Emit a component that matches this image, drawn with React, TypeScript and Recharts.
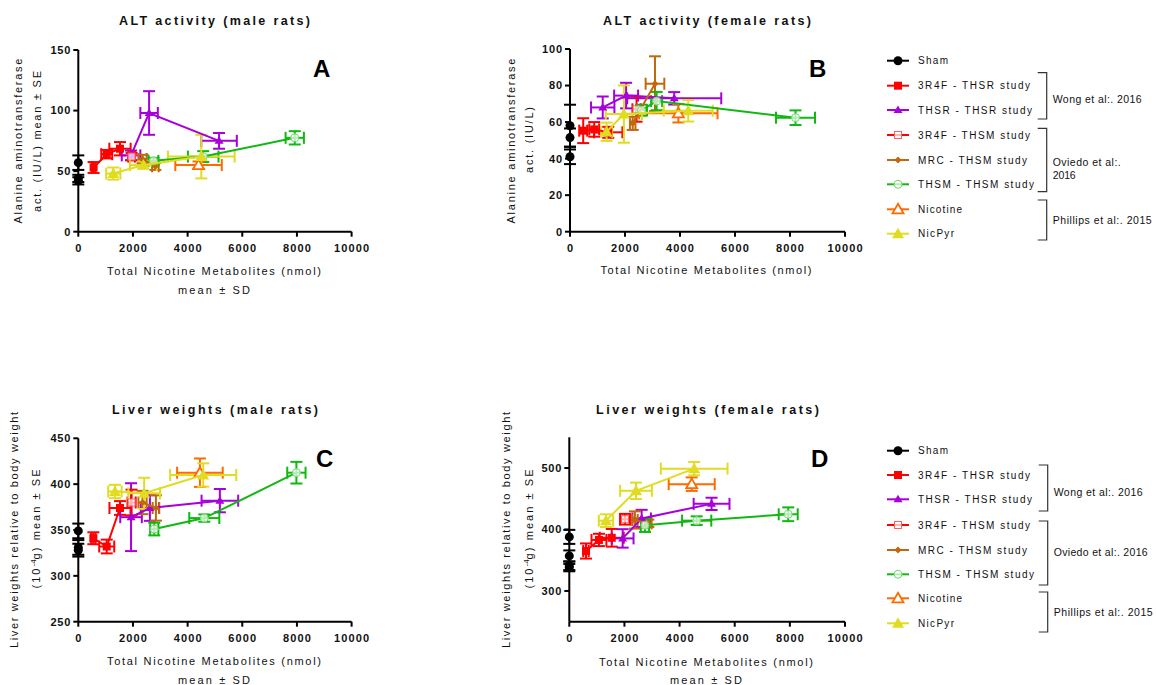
import React from 'react';
import { ScatterChart, Scatter, XAxis, YAxis, ErrorBar } from 'recharts';

type P = { x: number; y: number; ex?: number; ey?: number };

const FONT = '"Liberation Sans", Arial, Helvetica, sans-serif';
const INK = '#111';

const xTicks = [0, 2000, 4000, 6000, 8000, 10000];
const yTicksA = [0, 50, 100, 150];
const yTicksB = [0, 20, 40, 60, 80, 100];
const yTicksC = [250, 300, 350, 400, 450];
const yTicksD = [300, 400, 500];

const seriesNames = [
  'Sham',
  '3R4F - THSR study',
  'THSR - THSR study',
  '3R4F - THSM study',
  'MRC - THSM study',
  'THSM - THSM study',
  'Nicotine',
  'NicPyr',
];

// Panel A: ALT activity (male rats)
const aSham: P[] = [{ x: 0, y: 57, ey: 6 }, { x: 0, y: 44, ey: 3 }, { x: 0, y: 42, ey: 3 }];
const a3r4fThsr: P[] = [{ x: 560, y: 53, ex: 60, ey: 4.5 }, { x: 1040, y: 64, ex: 200, ey: 3.5 }, { x: 1525, y: 68.5, ex: 390, ey: 5.5 }];
const aThsrThsr: P[] = [{ x: 1930, y: 63, ex: 340, ey: 4 }, { x: 2590, y: 98, ex: 320, ey: 18 }, { x: 5150, y: 75, ex: 650, ey: 6.5 }];
const a3r4fThsm: P[] = [{ x: 1950, y: 62, ex: 120, ey: 3 }];
const aMrcThsm: P[] = [{ x: 2350, y: 60, ex: 150, ey: 3.5 }, { x: 2820, y: 54, ex: 120, ey: 3 }];
const aThsmThsm: P[] = [{ x: 2750, y: 58.5, ex: 180, ey: 2.5 }, { x: 4570, y: 62, ex: 560, ey: 4.5 }, { x: 7920, y: 77.5, ex: 335, ey: 5.5 }];
const aNicotine: P[] = [{ x: 4400, y: 55, ex: 850, ey: 3 }];
const aNicPyr: P[] = [{ x: 1280, y: 48, ex: 260, ey: 5 }, { x: 2380, y: 55, ex: 490, ey: 3 }, { x: 4500, y: 62, ex: 1220, ey: 18 }];

// Panel B: ALT activity (female rats)
const bSham: P[] = [{ x: 0, y: 58, ey: 11.5 }, { x: 0, y: 51.5, ey: 5 }, { x: 0, y: 41, ey: 4 }];
const b3r4fThsr: P[] = [{ x: 480, y: 55.3, ex: 145, ey: 6.8 }, { x: 880, y: 56, ex: 180, ey: 4 }, { x: 1390, y: 54.4, ex: 515, ey: 3 }];
const bThsrThsr: P[] = [{ x: 1190, y: 68, ex: 425, ey: 6 }, { x: 2040, y: 74.5, ex: 435, ey: 7 }, { x: 3790, y: 73, ex: 1710, ey: 3.4 }];
const b3r4fThsm: P[] = [{ x: 2420, y: 67, ex: 150, ey: 6.8 }];
const bMrcThsm: P[] = [{ x: 2280, y: 59.3, ex: 100, ey: 3.6 }, { x: 3090, y: 81, ex: 340, ey: 15 }];
const bThsmThsm: P[] = [{ x: 2600, y: 66.5, ex: 200, ey: 3 }, { x: 3150, y: 71.5, ex: 200, ey: 5 }, { x: 8200, y: 62.4, ex: 710, ey: 4 }];
const bNicotine: P[] = [{ x: 3940, y: 64.8, ex: 1425, ey: 5 }];
const bNicPyr: P[] = [{ x: 1330, y: 54.7, ex: 200, ey: 5 }, { x: 1960, y: 64.4, ex: 660, ey: 15.7 }, { x: 4300, y: 66.2, ex: 890, ey: 5.9 }];

// Panel C: Liver weights (male rats)
const cSham: P[] = [{ x: 0, y: 349, ey: 8 }, { x: 0, y: 331, ey: 8 }, { x: 0, y: 328, ey: 7 }];
const c3r4fThsr: P[] = [{ x: 550, y: 341, ex: 80, ey: 6.5 }, { x: 1040, y: 332, ex: 275, ey: 7.5 }, { x: 1525, y: 374, ex: 385, ey: 7.5 }];
const cThsrThsr: P[] = [{ x: 1930, y: 364, ex: 395, ey: 37 }, { x: 2620, y: 374, ex: 335, ey: 14 }, { x: 5180, y: 382, ex: 670, ey: 12.7 }];
const c3r4fThsm: P[] = [{ x: 1950, y: 380, ex: 150, ey: 14 }];
const cMrcThsm: P[] = [{ x: 2350, y: 380, ex: 150, ey: 12.7 }, { x: 2840, y: 374, ex: 120, ey: 13.8 }];
const cThsmThsm: P[] = [{ x: 2780, y: 351, ex: 150, ey: 6.9 }, { x: 4610, y: 363, ex: 550, ey: 4 }, { x: 7980, y: 412.5, ex: 335, ey: 11.8 }];
const cNicotine: P[] = [{ x: 4450, y: 412.5, ex: 835, ey: 15.5 }];
const cNicPyr: P[] = [{ x: 1340, y: 392, ex: 245, ey: 7.3 }, { x: 2410, y: 390, ex: 580, ey: 17 }, { x: 4570, y: 410, ex: 1210, ey: 12.7 }];

// Panel D: Liver weights (female rats)
const dSham: P[] = [{ x: 0, y: 388, ey: 11.4 }, { x: 0, y: 357, ey: 9 }, { x: 0, y: 341, ey: 7 }, { x: 0, y: 338, ey: 6 }];
const d3r4fThsr: P[] = [{ x: 605, y: 365, ex: 100, ey: 12.3 }, { x: 1075, y: 383, ex: 270, ey: 10 }, { x: 1540, y: 386.5, ex: 435, ey: 14.4 }];
const dThsrThsr: P[] = [{ x: 1935, y: 385.5, ex: 395, ey: 15 }, { x: 2625, y: 418, ex: 335, ey: 14 }, { x: 5160, y: 441.7, ex: 650, ey: 10 }];
const d3r4fThsm: P[] = [{ x: 2020, y: 416.7, ex: 180, ey: 8.7 }];
const dMrcThsm: P[] = [{ x: 2380, y: 415.5, ex: 100, ey: 14 }, { x: 2865, y: 410, ex: 120, ey: 6 }];
const dThsmThsm: P[] = [{ x: 2745, y: 407, ex: 150, ey: 11 }, { x: 4620, y: 414.4, ex: 530, ey: 7 }, { x: 7940, y: 424.8, ex: 345, ey: 11.2 }];
const dNicotine: P[] = [{ x: 4440, y: 473.8, ex: 835, ey: 11 }];
const dNicPyr: P[] = [{ x: 1330, y: 414.4, ex: 260, ey: 10.3 }, { x: 2420, y: 463, ex: 575, ey: 13.3 }, { x: 4530, y: 499, ex: 1210, ey: 10.9 }];

type Kind = 'circleFilled' | 'square' | 'triangleSmall' | 'squareOpen' | 'diamond' | 'circleOpen' | 'triangleOpen' | 'triangleFilled';

const STYLES: { color: string; kind: Kind; line: boolean; xErr: boolean }[] = [
  { color: '#000000', kind: 'circleFilled', line: false, xErr: false },
  { color: '#ff0000', kind: 'square', line: true, xErr: true },
  { color: '#a600dd', kind: 'triangleSmall', line: true, xErr: true },
  { color: '#ff0000', kind: 'squareOpen', line: false, xErr: true },
  { color: '#c0680c', kind: 'diamond', line: true, xErr: true },
  { color: '#12b812', kind: 'circleOpen', line: true, xErr: true },
  { color: '#ff6a00', kind: 'triangleOpen', line: false, xErr: true },
  { color: '#e0dc22', kind: 'triangleFilled', line: true, xErr: true },
];

const legendWidths = [30, 112, 114, 112, 109, 116, 44, 36];

function Marker({ kind, color, cx, cy }: { kind: Kind; color: string; cx: number; cy: number }) {
  switch (kind) {
    case 'circleFilled':
      return <circle cx={cx} cy={cy} r={4.5} fill={color} />;
    case 'square':
      return <rect x={cx - 4} y={cy - 4} width={8} height={8} fill={color} />;
    case 'squareOpen':
      return <rect x={cx - 3.5} y={cy - 3.5} width={7} height={7} fill="#fff" fillOpacity={0.7} stroke="#ff6060" strokeWidth={1} />;
    case 'triangleSmall':
      return <polygon points={`${cx},${cy - 4.5} ${cx + 4.5},${cy + 3} ${cx - 4.5},${cy + 3}`} fill={color} />;
    case 'diamond':
      return <polygon points={`${cx},${cy - 3.5} ${cx + 3.5},${cy} ${cx},${cy + 3.5} ${cx - 3.5},${cy}`} fill={color} />;
    case 'circleOpen':
      return <circle cx={cx} cy={cy} r={4} fill="#fff" fillOpacity={0.7} stroke="#6fd86f" strokeWidth={1} />;
    case 'triangleOpen':
      return <polygon points={`${cx},${cy - 5.5} ${cx + 5.5},${cy + 4} ${cx - 5.5},${cy + 4}`} fill="#fff" stroke={color} strokeWidth={1.8} />;
    case 'triangleFilled':
      return <polygon points={`${cx},${cy - 6} ${cx + 6},${cy + 4.5} ${cx - 6},${cy + 4.5}`} fill={color} />;
  }
  return null;
}

// Text with a fixed drawn length (letter-spaced look of the original)
function T({ x, y, len, size = 11, bold = false, anchor = 'start', rotate = false, children }: any) {
  const common = {
    fontSize: size,
    fontWeight: bold ? 700 : 400,
    fontFamily: FONT,
    fill: INK,
    textAnchor: anchor,
    textLength: len,
    lengthAdjust: 'spacing',
  };
  if (rotate) {
    return (
      <text transform={`translate(${x},${y}) rotate(-90)`} {...common}>
        {children}
      </text>
    );
  }
  return (
    <text x={x} y={y} {...common}>
      {children}
    </text>
  );
}

const XTick = (props: any) => {
  const { x, y, payload } = props;
  const s = String(payload.value);
  return (
    <text x={x} y={y} dy="0.71em" textAnchor="middle" fontSize={11} fontWeight={700} fontFamily={FONT} fill={INK} textLength={s.length * 7.1 - 0.5} lengthAdjust="spacing">
      {s}
    </text>
  );
};

const YTick = (props: any) => {
  const { x, y, payload } = props;
  const s = String(payload.value);
  return (
    <text x={x} y={y} dy="0.355em" textAnchor="end" fontSize={11} fontWeight={700} fontFamily={FONT} fill={INK} textLength={s.length * 6.8 - 0.5} lengthAdjust="spacing">
      {s}
    </text>
  );
};

type PanelProps = {
  left: number;
  top: number;
  width: number;
  height: number;
  margin: { top: number; right: number; bottom: number; left: number };
  yAxisWidth: number;
  yDomain: [number, number];
  yTicks: number[];
  data: P[][];
};

function Panel({ left, top, width, height, margin, yAxisWidth, yDomain, yTicks, data }: PanelProps) {
  return (
    <div style={{ position: 'absolute', left, top, width, height }}>
      <ScatterChart width={width} height={height} margin={margin}>
        <XAxis
          type="number"
          dataKey="x"
          domain={[0, 10000]}
          ticks={xTicks}
          interval={0}
          height={30}
          axisLine={{ stroke: '#000', strokeWidth: 2 }}
          tickLine={{ stroke: '#000', strokeWidth: 2 }}
          tickSize={5}
          tickMargin={7}
          tick={<XTick />}
        />
        <YAxis
          type="number"
          dataKey="y"
          domain={yDomain}
          ticks={yTicks}
          interval={0}
          width={yAxisWidth}
          axisLine={{ stroke: '#000', strokeWidth: 2 }}
          tickLine={{ stroke: '#000', strokeWidth: 2 }}
          tickSize={5}
          tickMargin={3}
          tick={<YTick />}
        />
        {data.map((pts, i) => {
          const st = STYLES[i];
          return (
            <Scatter
              key={seriesNames[i]}
              name={seriesNames[i]}
              data={pts}
              isAnimationActive={false}
              line={st.line && pts.length > 1 ? { stroke: st.color, strokeWidth: 2 } : false}
              lineType="joint"
              shape={(props: any) => <Marker kind={st.kind} color={st.color} cx={props.cx} cy={props.cy} />}
            >
              <ErrorBar dataKey="ey" direction="y" width={6} stroke={st.color} strokeWidth={2} isAnimationActive={false} />
              {st.xErr ? (
                <ErrorBar dataKey="ex" direction="x" width={6} stroke={st.color} strokeWidth={2} isAnimationActive={false} />
              ) : null}
            </Scatter>
          );
        })}
      </ScatterChart>
    </div>
  );
}

type Bracket = { y1: number; y2: number; x: number; labels: { text: string; y: number; len: number }[] };

function LegendBlock({ ys, brackets }: { ys: number[]; brackets: Bracket[] }) {
  return (
    <g>
      {seriesNames.map((n, i) => {
        const st = STYLES[i];
        const y = ys[i];
        return (
          <g key={n}>
            <line x1={887} x2={909} y1={y} y2={y} stroke={st.color} strokeWidth={2} />
            <Marker kind={st.kind} color={st.color} cx={898} cy={y} />
            <T x={918} y={y + 3.5} len={legendWidths[i]} size={10}>
              {n}
            </T>
          </g>
        );
      })}
      {brackets.map((b, i) => (
        <g key={i}>
          <polyline points={`${b.x - 9},${b.y1} ${b.x},${b.y1} ${b.x},${b.y2} ${b.x - 9},${b.y2}`} fill="none" stroke="#333" strokeWidth={1.2} />
          {b.labels.map((l, j) => (
            <T key={j} x={b.x + 6} y={l.y} len={l.len} size={10.5}>
              {l.text}
            </T>
          ))}
        </g>
      ))}
    </g>
  );
}

export default function App() {
  const letterStyle = { fontSize: 24, fontWeight: 700, fontFamily: FONT, fill: '#000' } as const;

  return (
    <div style={{ position: 'absolute', left: 0, top: 0, width: 1156, height: 685, background: '#fff', overflow: 'hidden' }}>
      <Panel
        left={0}
        top={0}
        width={380}
        height={300}
        margin={{ top: 50, right: 28.4, bottom: 38.3, left: 0 }}
        yAxisWidth={78.3}
        yDomain={[0, 150]}
        yTicks={yTicksA}
        data={[aSham, a3r4fThsr, aThsrThsr, a3r4fThsm, aMrcThsm, aThsmThsm, aNicotine, aNicPyr]}
      />
      <Panel
        left={490}
        top={0}
        width={385}
        height={300}
        margin={{ top: 49, right: 30, bottom: 38.3, left: 0 }}
        yAxisWidth={80}
        yDomain={[0, 100]}
        yTicks={yTicksB}
        data={[bSham, b3r4fThsr, bThsrThsr, b3r4fThsm, bMrcThsm, bThsmThsm, bNicotine, bNicPyr]}
      />
      <Panel
        left={0}
        top={390}
        width={380}
        height={295}
        margin={{ top: 48.3, right: 28.4, bottom: 33.3, left: 0 }}
        yAxisWidth={78.3}
        yDomain={[250, 450]}
        yTicks={yTicksC}
        data={[cSham, c3r4fThsr, cThsrThsr, c3r4fThsm, cMrcThsm, cThsmThsm, cNicotine, cNicPyr]}
      />
      <Panel
        left={490}
        top={390}
        width={385}
        height={295}
        margin={{ top: 47.3, right: 30, bottom: 33.3, left: 0 }}
        yAxisWidth={79.3}
        yDomain={[250, 550]}
        yTicks={yTicksD}
        data={[dSham, d3r4fThsr, dThsrThsr, d3r4fThsm, dMrcThsm, dThsmThsm, dNicotine, dNicPyr]}
      />
      <svg width={1156} height={685} style={{ position: 'absolute', left: 0, top: 0, pointerEvents: 'none' }}>
        {/* Titles */}
        <T x={214.5} y={25} len={191} size={12.5} bold anchor="middle">ALT activity (male rats)</T>
        <T x={707} y={25} len={208} size={12.5} bold anchor="middle">ALT activity (female rats)</T>
        <T x={215} y={414} len={206} size={12.5} bold anchor="middle">Liver weights (male rats)</T>
        <T x={707.5} y={414} len={223} size={12.5} bold anchor="middle">Liver weights (female rats)</T>

        {/* Panel letters */}
        <text x={313} y={77} {...letterStyle}>A</text>
        <text x={809} y={77} {...letterStyle}>B</text>
        <text x={316} y={467} {...letterStyle}>C</text>
        <text x={811} y={467} {...letterStyle}>D</text>

        {/* X labels */}
        <T x={214} y={275} len={214} anchor="middle">Total Nicotine Metabolites (nmol)</T>
        <T x={214} y={294} len={72} anchor="middle">mean ± SD</T>
        <T x={706} y={274} len={211} anchor="middle">Total Nicotine Metabolites (nmol)</T>
        <T x={214} y={665} len={214} anchor="middle">Total Nicotine Metabolites (nmol)</T>
        <T x={214} y={684} len={72} anchor="middle">mean ± SD</T>
        <T x={706} y={666} len={214} anchor="middle">Total Nicotine Metabolites (nmol)</T>
        <T x={706} y={684} len={72} anchor="middle">mean ± SD</T>

        {/* Y labels */}
        <T x={22} y={141} len={165} anchor="middle" rotate>Alanine aminotransferase</T>
        <T x={40.5} y={141.5} len={141} anchor="middle" rotate>act. (IU/L) mean ± SE</T>
        <T x={514.7} y={141} len={165} anchor="middle" rotate>Alanine aminotransferase</T>
        <T x={532.6} y={140} len={66} anchor="middle" rotate>act. (IU/L)</T>
        <T x={18.3} y={530} len={236} anchor="middle" rotate>Liver weights relative to body weight</T>
        <text transform="translate(39.7,529) rotate(-90)" textAnchor="middle" fontSize={11} fontFamily={FONT} fill={INK}>
          <tspan textLength={20} lengthAdjust="spacing">(10</tspan>
          <tspan dy={-4} fontSize={8}>-4</tspan>
          <tspan dy={4} textLength={90} lengthAdjust="spacing">g) mean ± SE</tspan>
        </text>
        <T x={509.5} y={530} len={236} anchor="middle" rotate>Liver weights relative to body weight</T>
        <text transform="translate(532.6,529) rotate(-90)" textAnchor="middle" fontSize={11} fontFamily={FONT} fill={INK}>
          <tspan textLength={20} lengthAdjust="spacing">(10</tspan>
          <tspan dy={-4} fontSize={8}>-4</tspan>
          <tspan dy={4} textLength={90} lengthAdjust="spacing">g) mean ± SE</tspan>
        </text>

        {/* Legends */}
        <LegendBlock
          ys={[60.7, 85.7, 110, 135, 160, 184.3, 209.3, 233.7]}
          brackets={[
            { y1: 72.7, y2: 119, x: 1046.7, labels: [{ text: 'Wong et al:. 2016', y: 103, len: 89 }] },
            { y1: 128.3, y2: 191.7, x: 1046.7, labels: [{ text: 'Oviedo et al:.', y: 165.5, len: 68 }, { text: '2016', y: 179, len: 23 }] },
            { y1: 200, y2: 240, x: 1046.7, labels: [{ text: 'Phillips  et al:. 2015', y: 223.5, len: 99 }] },
          ]}
        />
        <LegendBlock
          ys={[450.7, 475, 499.3, 525, 550, 574.3, 598.3, 623.3]}
          brackets={[
            { y1: 465, y2: 511, x: 1047.7, labels: [{ text: 'Wong et al:. 2016', y: 496, len: 89 }] },
            { y1: 521, y2: 585, x: 1047.7, labels: [{ text: 'Oviedo et al:. 2016', y: 556, len: 94 }] },
            { y1: 592, y2: 632, x: 1047.7, labels: [{ text: 'Phillips  et al:. 2015', y: 616, len: 99 }] },
          ]}
        />
      </svg>
    </div>
  );
}
